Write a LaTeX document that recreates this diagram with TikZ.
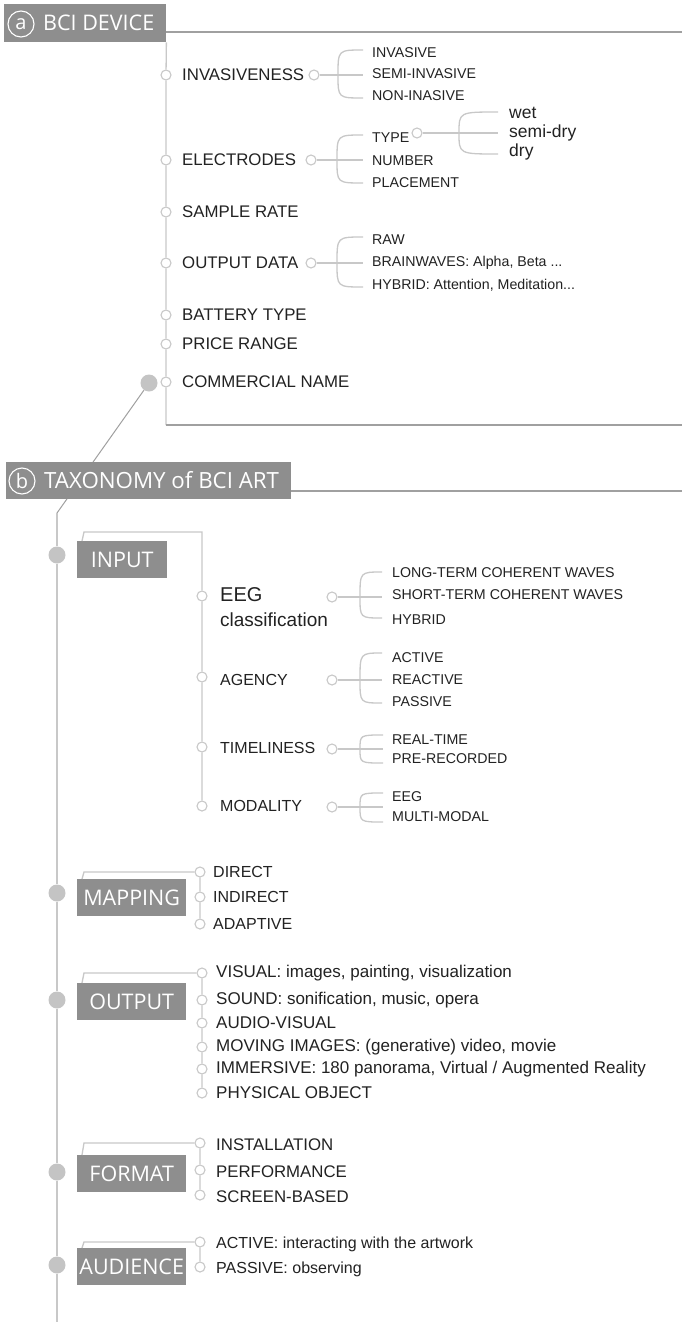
\documentclass[tikz,border=0pt]{standalone}
\usepackage{fontspec}
\setmainfont{Liberation Sans}
\newfontfamily\headfont{Open Sans}

\definecolor{boxgray}{HTML}{8E8E8E}
\definecolor{dotgray}{HTML}{C4C4C4}
\definecolor{linegray}{HTML}{C8C8C8}
\definecolor{rulegray}{HTML}{A0A0A0}
\definecolor{ink}{HTML}{222222}

% #1 dot, #2 x left, #3 x right, #4 y top, #5 y mid, #6 y bottom
\newcommand{\fork}[6]{%
  \coordinate (#1-t) at (#3,#4);
  \coordinate (#1-m) at (#3,#5);
  \coordinate (#1-b) at (#3,#6);
  \draw[conn] (#1) -- (#1-m);
  \draw[conn] (#1-t) .. controls (#2,#4) .. (#2,#5) .. controls (#2,#6) .. (#1-b);
}

\tikzset{
  conn/.style={draw=linegray, line width=1.3pt},
  rulel/.style={draw=rulegray, line width=1.5pt},
  diag/.style={draw=rulegray, line width=1pt},
  dot/.style={circle, draw=linegray, line width=1.1pt, fill=white, inner sep=0pt, minimum size=10pt},
  bigdot/.style={circle, fill=dotgray, inner sep=0pt, minimum size=17pt},
  lbl/.style={anchor=west, inner sep=0pt, text=ink, font=\fontsize{16}{18}\selectfont},
  lbla/.style={lbl, font=\fontsize{16.8}{18}\selectfont},
  lblo/.style={lbl, font=\fontsize{17}{19}\selectfont},
  sublbl/.style={anchor=west, inner sep=0pt, text=ink, font=\fontsize{14.2}{16}\selectfont},
  biglbl/.style={anchor=west, inner sep=0pt, text=ink, font=\fontsize{17.5}{20}\selectfont},
  hdr/.style={fill=boxgray, anchor=north west, inner sep=0pt},
  hdrtxt/.style={anchor=west, inner sep=0pt, text=white, font=\headfont\fontsize{21.5}{24}\selectfont},
  ring/.style={circle, draw=white, line width=1.1pt, text=white, minimum size=26pt, inner sep=0pt, font=\headfont\fontsize{20}{20}\selectfont},
  cat/.style={fill=boxgray, anchor=north west, inner sep=0pt, minimum height=37pt, minimum width=109pt, text=white, font=\headfont\fontsize{21.5}{24}\selectfont},
}

\begin{document}
\begin{tikzpicture}[x=1pt, y=-1pt]

        \path[use as bounding box, fill=white] (0,0) rectangle (682,1322);

        % (a) BCI device
        \node[hdr, minimum width=162pt, minimum height=38pt] (hdrA) at (4,4) {};
        \node[ring] (ringA) at (21,24) {a};
        \node[hdrtxt] (ttlA) at (43,23) {BCI DEVICE};
        \coordinate (ruleA) at (682,32);
        \draw[rulel] (hdrA.east |- ruleA) -- (ruleA);

        \foreach \yy/\nm/\txt in {75/Inv/INVASIVENESS, 160/Ele/ELECTRODES, 212/Smp/SAMPLE RATE,
                263/Out/OUTPUT DATA, 315/Bat/BATTERY TYPE, 344/Prc/PRICE RANGE, 382/Com/COMMERCIAL NAME}
        {
                \node[dot] (d\nm) at (166,\yy) {};
                \node[lbla] (l\nm) at (182,\yy) {\txt};
        }
        \coordinate (cornA) at (166,425);
        \coordinate (endA) at (682,425);
        \draw[conn] (hdrA.south east) -- (dInv) -- (dEle) -- (dSmp) -- (dOut) -- (dBat) -- (dPrc) -- (dCom) -- (cornA);
        \draw[rulel] (cornA) -- (endA);

        \node[dot] (eInv) at (314,75) {};
        \fork{eInv}{338}{363}{50}{75}{98}
        \foreach \yy/\txt [count=\i] in {53/INVASIVE, 74/SEMI-INVASIVE, 96/NON-INASIVE}
                \node[sublbl] (sInv\i) at (372,\yy) {\txt};

        \node[dot] (eEle) at (311,160) {};
        \fork{eEle}{337}{363}{135}{160}{183}
        \foreach \yy/\txt [count=\i] in {138/TYPE, 161/NUMBER, 183/PLACEMENT}
                \node[sublbl] (sEle\i) at (372,\yy) {\txt};

        \node[dot] (eType) at (417,133) {};
        \fork{eType}{459}{498}{112}{133}{154}
        \foreach \yy/\txt [count=\i] in {113/wet, 133/semi-dry, 152/dry}
                \node[biglbl] (sType\i) at (509,\yy) {\txt};

        \node[dot] (eOut) at (311,263) {};
        \fork{eOut}{337}{363}{237}{263}{287}
        \foreach \yy/\txt [count=\i] in {240/RAW, 263/{BRAINWAVES: Alpha, Beta ...}, 285/{HYBRID: Attention, Meditation...}}
                \node[sublbl] (sOut\i) at (372,\yy) {\txt};

        % link down to (b)
        \node[bigdot] (bdA) at (149,383) {};
        \coordinate (bendB) at (57,513);
        \draw[diag] (bdA) -- (bendB);

        % (b) taxonomy
        \node[hdr, minimum width=285pt, minimum height=37pt] (hdrB) at (6,462) {};
        \node[ring] (ringB) at (22,481) {b};
        \node[hdrtxt, font=\headfont\fontsize{22.3}{24}\selectfont] (ttlB) at (44,480) {TAXONOMY of BCI ART};
        \coordinate (ruleB) at (682,491);
        \draw[rulel] (hdrB.east |- ruleB) -- (ruleB);

        \foreach \yy/\nm in {555/In, 893/Map, 1000/Out, 1172/Fmt, 1265/Aud}
                \node[bigdot] (b\nm) at (57,\yy) {};
        \coordinate (endB) at (57,1322);
        \draw[conn] (bendB) -- (bIn) -- (bMap) -- (bOut) -- (bFmt) -- (bAud) -- (endB);

        % input
        \node[cat, minimum width=90pt] (cIn) at (77,541) {INPUT};
        \foreach \yy/\nm in {596/EEG, 677/Age, 747/Tim, 806/Mod}
                \node[dot] (d\nm) at (202,\yy) {};
        \node[anchor=west, inner sep=0pt, text=ink, font=\fontsize{20}{22}\selectfont] (lEEG) at (220,595) {EEG};
        \node[anchor=west, inner sep=0pt, text=ink, font=\fontsize{19}{22}\selectfont] (lEEGb) at (220,620) {classification};
        \node[lbl] (lAge) at (220,680) {AGENCY};
        \node[lbl] (lTim) at (220,748) {TIMELINESS};
        \node[lbl] (lMod) at (220,806) {MODALITY};
        \coordinate (kIn) at (84,532);
        \coordinate (kIn2) at (202,532);
        \draw[conn] ([xshift=5pt]cIn.north west) -- (kIn) -- (kIn2) -- (dEEG) -- (dAge) -- (dTim) -- (dMod);

        \node[dot] (eEEG) at (332,597) {};
        \fork{eEEG}{360}{382}{572}{597}{618}
        \foreach \yy/\txt [count=\i] in {573/LONG-TERM COHERENT WAVES, 595/SHORT-TERM COHERENT WAVES, 620/HYBRID}
                \node[sublbl] (sEEG\i) at (392,\yy) {\txt};

        \node[dot] (eAge) at (332,680) {};
        \fork{eAge}{360}{382}{653}{680}{703}
        \foreach \yy/\txt [count=\i] in {658/ACTIVE, 680/REACTIVE, 702/PASSIVE}
                \node[sublbl] (sAge\i) at (392,\yy) {\txt};

        \node[dot] (eTim) at (332,749) {};
        \fork{eTim}{360}{383}{735}{749}{763}
        \foreach \yy/\txt [count=\i] in {740/REAL-TIME, 759/PRE-RECORDED}
                \node[sublbl] (sTim\i) at (392,\yy) {\txt};

        \node[dot] (eMod) at (332,807) {};
        \fork{eMod}{360}{383}{793}{807}{822}
        \foreach \yy/\txt [count=\i] in {797/EEG, 817/MULTI-MODAL}
                \node[sublbl] (sMod\i) at (392,\yy) {\txt};

        % mapping
        \node[cat] (cMap) at (77,879) {MAPPING};
        \foreach \yy/\txt [count=\i] in {872/DIRECT, 897/INDIRECT, 924/ADAPTIVE}
        {
                \node[dot] (map\i) at (200,\yy) {};
                \node[lbl] (lmap\i) at (213,\yy) {\txt};
        }
        \coordinate (kMap) at (84,872);
        \draw[conn] ([xshift=5pt]cMap.north west) -- (kMap) -- (map1) -- (map2) -- (map3);

        % output
        \node[cat] (cOut) at (77,983) {OUTPUT};
        \foreach \yy/\txt [count=\i] in {973/{VISUAL: images, painting, visualization}, 1000/{SOUND: sonification, music, opera},
                1023/AUDIO-VISUAL, 1047/{MOVING IMAGES: (generative) video, movie},
                1069/{IMMERSIVE: 180 panorama, Virtual / Augmented Reality}, 1093/PHYSICAL OBJECT}
        {
                \node[dot] (out\i) at (202,\yy) {};
                \node[lblo] (lout\i) at (216,\yy) {\txt};
        }
        \coordinate (kOut) at (84,973);
        \draw[conn] ([xshift=5pt]cOut.north west) -- (kOut) -- (out1) -- (out2) -- (out3) -- (out4) -- (out5) -- (out6);

        % format
        \node[cat] (cFmt) at (77,1155) {FORMAT};
        \foreach \yy/\txt [count=\i] in {1143/INSTALLATION, 1170/PERFORMANCE, 1195/SCREEN-BASED}
        {
                \node[dot] (fmt\i) at (200,\yy) {};
                \node[lbla] (lfmt\i) at (216,\yy+2) {\txt};
        }
        \coordinate (kFmt) at (84,1143);
        \draw[conn] ([xshift=5pt]cFmt.north west) -- (kFmt) -- (fmt1) -- (fmt2) -- (fmt3);

        % audience
        \node[cat] (cAud) at (77,1248) {AUDIENCE};
        \foreach \yy/\txt [count=\i] in {1242/{ACTIVE: interacting with the artwork}, 1267/{PASSIVE: observing}}
        {
                \node[dot] (aud\i) at (200,\yy) {};
                \node[lbl] (laud\i) at (216,\yy+2) {\txt};
        }
        \coordinate (kAud) at (84,1242);
        \draw[conn] ([xshift=5pt]cAud.north west) -- (kAud) -- (aud1) -- (aud2);

\end{tikzpicture}
\end{document}
